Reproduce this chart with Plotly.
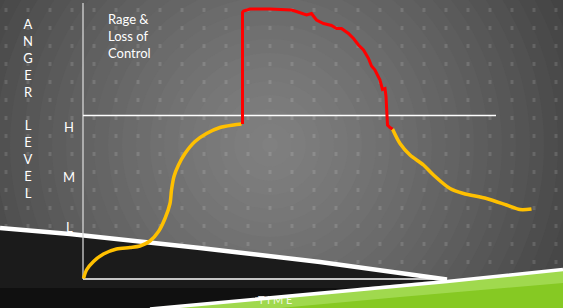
import plotly.graph_objects as go

W, H = 563, 308

# ---------------- data (time units, anger-level units) ----------------
rise_time = [0.01, 0.07, 0.21, 0.41, 0.67, 0.94, 1.14, 1.34, 1.51, 1.64, 1.74, 1.77,
             1.82, 1.91, 2.04, 2.24, 2.47, 2.74, 3.01, 3.17]
rise_level = [-0.03, 0.14, 0.31, 0.46, 0.56, 0.59, 0.62, 0.72, 0.91, 1.17, 1.47, 1.74,
              2.01, 2.24, 2.47, 2.71, 2.87, 2.99, 3.04, 3.06]

rage_time = [3.19, 3.19, 3.21, 3.34, 3.74, 4.17, 4.27, 4.47, 4.57, 4.67, 4.81, 4.97,
             5.07, 5.17, 5.31, 5.41, 5.51, 5.61, 5.71, 5.77, 5.84, 5.94, 5.99, 6.04,
             6.06, 6.07, 6.09, 6.14, 6.19]
rage_level = [3.06, 5.29, 5.32, 5.36, 5.36, 5.34, 5.31, 5.24, 5.27, 5.14, 5.07, 5.03,
              4.97, 4.97, 4.87, 4.77, 4.64, 4.54, 4.37, 4.22, 4.14, 3.94, 3.75, 3.77,
              3.61, 3.24, 3.04, 2.99, 2.96]

fall_time = [6.19, 6.34, 6.54, 6.81, 7.01, 7.34, 7.61, 8.07, 8.47, 8.74, 8.97]
fall_level = [2.96, 2.67, 2.44, 2.24, 2.04, 1.77, 1.67, 1.57, 1.44, 1.35, 1.36]

level_ticks = [1, 2, 3]
level_labels = ["L", "M", "H"]
threshold_level = 3.23
threshold_end = 8.26
axis_top = 5.48
axis_time_end = 7.28

FONT = "Lato, 'Open Sans', sans-serif"
YELLOW = "#FFC000"
RED = "#FF0000"


def P(x, y):
    return x / W, 1 - y / H


def path_from(points, close=True):
    s = ""
    for i, (x, y) in enumerate(points):
        px, py = P(x, y)
        s += ("M" if i == 0 else "L") + f"{px:.5f},{py:.5f} "
    return s + ("Z" if close else "")


shapes = []

# radial grey background gradient (concentric discs)
cx, cy = 270, 145
for r in range(400, 0, -14):
    t = min(r / 320.0, 1.25)
    g = int(round(128 - 58 * t ** 1.3))
    g = max(g, 58)
    x0, y1 = P(cx - r, cy - r)
    x1, y0 = P(cx + r, cy + r)
    shapes.append(dict(type="circle", xref="paper", yref="paper", x0=x0, x1=x1,
                       y0=y0, y1=y1, fillcolor=f"rgb({g},{g},{g})",
                       line=dict(width=0), layer="below"))

# dotted texture (one path)
dots = ""
for j in range(16):
    yy = 10 + 18 * j
    for k in range(26):
        xx = 6 + 22 * k
        a = P(xx - 1.5, yy - 2)
        b = P(xx + 1.5, yy + 2)
        dots += f"M{a[0]:.5f},{a[1]:.5f} H{b[0]:.5f} V{b[1]:.5f} H{a[0]:.5f} Z "
shapes.append(dict(type="path", xref="paper", yref="paper", path=dots,
                   fillcolor="rgba(255,255,255,0.13)", line=dict(width=0), layer="below"))

# black wedge
upper = [(0, 228), (70, 234), (200, 248), (320, 262), (447, 279.5)]
shapes.append(dict(type="path", xref="paper", yref="paper",
                   path=path_from(upper + [(150, 308), (0, 308)]),
                   fillcolor="#1b1b1b", line=dict(width=0), layer="below"))
shapes.append(dict(type="path", xref="paper", yref="paper",
                   path=path_from([(0, 288), (370, 288), (150, 308), (0, 308)]),
                   fillcolor="#101010", line=dict(width=0), layer="below"))
# green wedge
shapes.append(dict(type="path", xref="paper", yref="paper",
                   path=path_from([(150, 308), (447, 282), (563, 270.5), (563, 308)]),
                   fillcolor="#86c923", line=dict(width=0), layer="below"))
shapes.append(dict(type="path", xref="paper", yref="paper",
                   path=path_from([(150, 308), (447, 282), (563, 270.5), (563, 283), (400, 297), (280, 308)]),
                   fillcolor="rgba(210,245,160,0.35)", line=dict(width=0), layer="below"))
# white stripes
shapes.append(dict(type="path", xref="paper", yref="paper",
                   path=path_from(upper, close=False),
                   line=dict(color="white", width=4.5), layer="below"))
shapes.append(dict(type="path", xref="paper", yref="paper",
                   path=path_from([(150, 309), (447, 281.5), (563, 269.5)], close=False),
                   line=dict(color="white", width=3.5), layer="below"))

# axes and threshold line (data coordinates)
shapes.append(dict(type="line", xref="x", yref="y", x0=0, x1=0, y0=-0.04, y1=axis_top,
                   line=dict(color="rgba(215,215,215,0.85)", width=1.5), layer="below"))
shapes.append(dict(type="line", xref="x", yref="y", x0=0, x1=axis_time_end, y0=-0.04, y1=-0.04,
                   line=dict(color="white", width=1.5), layer="below"))
shapes.append(dict(type="line", xref="x", yref="y", x0=0, x1=threshold_end,
                   y0=threshold_level, y1=threshold_level,
                   line=dict(color="white", width=1.5), layer="below"))

fig = go.Figure()
fig.add_trace(go.Scatter(x=rise_time, y=rise_level, mode="lines",
                         line=dict(color=YELLOW, width=3.5, shape="spline", smoothing=0.8),
                         hoverinfo="skip"))
fig.add_trace(go.Scatter(x=fall_time, y=fall_level, mode="lines",
                         line=dict(color=YELLOW, width=3.5, shape="spline", smoothing=0.8),
                         hoverinfo="skip"))
fig.add_trace(go.Scatter(x=rage_time, y=rage_level, mode="lines",
                         line=dict(color=RED, width=3), hoverinfo="skip"))

annotations = []
for v, lab in zip(level_ticks, level_labels):
    annotations.append(dict(x=-0.28, y=v, xref="x", yref="y", text=lab, showarrow=False,
                            font=dict(family=FONT, size=13, color="white")))
annotations.append(dict(x=28 / W, y=1 - 108.5 / H, xref="paper", yref="paper",
                        text="A<br>N<br>G<br>E<br>R<br> <br>L<br>E<br>V<br>E<br>L",
                        showarrow=False, align="center", xanchor="center", yanchor="middle",
                        font=dict(family=FONT, size=13, color="white")))
annotations.append(dict(x=106 / W, y=1 - 9 / H, xref="paper", yref="paper",
                        text="Rage &amp;<br>Loss of<br>Control", showarrow=False,
                        align="left", xanchor="left", yanchor="top",
                        font=dict(family=FONT, size=13, color="white")))
annotations.append(dict(x=275 / W, y=0.0, xref="paper", yref="paper",
                        text="T I M E", showarrow=False, xanchor="center", yanchor="bottom",
                        font=dict(family=FONT, size=11, color="rgba(255,255,255,0.85)")))

fig.update_layout(
    width=W, height=H, margin=dict(l=0, r=0, t=0, b=0),
    paper_bgcolor="#444444", plot_bgcolor="rgba(0,0,0,0)",
    showlegend=False, shapes=shapes, annotations=annotations,
    xaxis=dict(range=[-1.66, 9.6], visible=False, fixedrange=True, domain=[0, 1]),
    yaxis=dict(range=[-0.62, 5.54], visible=False, fixedrange=True, domain=[0, 1]),
)

fig.write_html("out.html", config={"displayModeBar": False},
               post_script="document.body.style.margin='0';document.body.style.overflow='hidden';")
